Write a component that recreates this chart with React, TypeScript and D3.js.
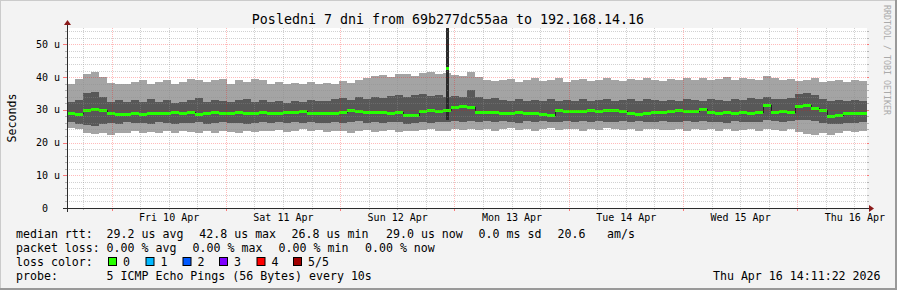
import React from 'react';
import * as d3 from 'd3';

const W = 897;
const H = 290;
const START = Date.UTC(2026, 3, 9, 14, 33);
const END = Date.UTC(2026, 3, 16, 14, 33);

// smoke: 5 sorted pings per period (microseconds)
const pingMax = [
  38.0, 39.3, 41.0, 41.5, 40.0, 38.3, 38.0, 37.8, 38.5, 39.0, 38.0, 38.5, 39.0, 38.0, 38.5, 39.5, 39.0, 38.5, 39.0, 39.5, 38.0, 39.0, 38.5, 39.5, 39.0,
  38.0, 38.5, 37.8, 38.2, 38.0, 38.6, 37.9, 38.3, 38.0, 38.8, 38.2, 39.0, 39.8, 40.2, 40.6, 40.0, 40.8, 41.0, 40.4, 41.2, 41.6, 40.8, 41.4, 40.6, 40.2,
  41.5, 40.0, 39.2, 38.8, 39.0, 39.4, 38.6, 39.2, 39.8, 38.8, 39.0, 39.6, 38.6, 39.2, 39.5, 38.8, 39.0, 39.8, 39.2, 38.8, 39.4, 39.0, 39.6, 39.2, 38.8,
  39.5, 39.0, 39.8, 39.2, 39.6, 39.0, 39.4, 40.0, 39.2, 39.6, 39.4, 39.0, 40.2, 39.6, 39.0, 39.4, 38.8, 39.2, 39.6, 38.6, 38.8, 39.2, 38.6, 39.0, 38.8,
];
const pingHigh = [
  32.4, 33.0, 35.0, 35.5, 34.0, 32.5, 33.0, 32.4, 33.0, 32.4, 33.2, 32.4, 33.0, 32.0, 32.4, 33.0, 33.6, 32.4, 33.0, 32.8, 32.4, 33.0, 33.2, 32.4, 33.0,
  32.4, 32.8, 32.2, 32.6, 32.4, 33.0, 32.6, 32.8, 33.4, 33.6, 33.0, 33.8, 33.4, 34.0, 33.6, 34.2, 34.6, 33.8, 34.4, 34.8, 34.2, 34.6, 34.0, 34.2, 33.8,
  36.0, 34.0, 33.4, 33.6, 33.0, 32.8, 33.2, 32.6, 33.0, 32.8, 33.2, 32.6, 33.0, 32.8, 33.4, 32.6, 33.0, 33.2, 32.8, 33.0, 33.4, 32.8, 33.2, 33.0, 32.6,
  33.0, 32.8, 33.2, 33.0, 32.6, 33.2, 33.0, 32.8, 33.4, 33.0, 33.6, 33.2, 34.0, 33.4, 33.2, 33.6, 34.8, 35.2, 34.6, 33.4, 32.8, 33.0, 32.6, 33.0, 32.8,
];
const pingMedian = [
  28.9, 28.7, 29.9, 30.1, 29.9, 29.1, 28.7, 28.7, 28.9, 28.6, 28.9, 29.1, 28.9, 29.4, 28.9, 29.4, 28.7, 29.1, 29.3, 28.9, 29.1, 29.2, 28.9, 28.9, 29.2,
  28.9, 28.9, 29.2, 29.2, 29.6, 29.0, 29.1, 28.9, 29.0, 29.2, 29.8, 29.6, 29.4, 29.3, 29.4, 29.1, 29.3, 28.4, 28.5, 29.6, 29.9, 29.6, 30.0, 31.0, 31.2,
  31.0, 29.4, 29.2, 29.3, 29.1, 29.0, 29.2, 28.9, 29.0, 28.8, 28.4, 30.0, 29.6, 29.7, 29.5, 29.8, 29.6, 29.9, 30.0, 29.7, 28.9, 28.8, 29.0, 29.4, 29.3,
  29.6, 29.8, 29.5, 29.7, 30.4, 29.2, 29.1, 29.3, 29.0, 29.2, 29.1, 29.3, 31.6, 29.4, 29.5, 29.2, 31.2, 31.4, 30.6, 29.8, 28.2, 28.3, 28.9, 29.0, 28.9,
];
const pingLow = [
  26.4, 25.8, 25.4, 25.2, 25.6, 26.0, 25.8, 26.2, 25.9, 26.1, 25.8, 26.2, 26.0, 25.7, 26.1, 25.9, 26.2, 25.8, 26.0, 26.3, 25.9, 26.1, 25.7, 26.0, 26.2,
  26.0, 26.3, 25.9, 26.2, 26.0, 26.4, 26.1, 25.9, 26.3, 26.0, 26.2, 26.5, 26.1, 26.3, 26.0, 26.4, 26.2, 25.8, 26.1, 26.3, 26.0, 26.4, 26.2, 26.6, 26.4,
  26.6, 26.3, 26.5, 26.2, 26.6, 26.4, 26.1, 26.5, 26.3, 26.6, 26.2, 26.4, 26.7, 26.3, 26.5, 26.2, 26.6, 26.4, 26.3, 26.5, 26.2, 26.6, 26.4, 26.3, 26.5,
  26.4, 26.2, 26.5, 26.3, 26.6, 26.2, 26.4, 26.1, 26.5, 26.3, 26.2, 26.4, 26.8, 26.5, 26.3, 26.6, 27.0, 26.8, 26.5, 26.0, 25.6, 25.8, 26.1, 25.9, 26.2,
];
const pingMin = [
  24.4, 24.2, 23.0, 22.6, 22.8, 22.4, 22.8, 23.0, 23.4, 23.0, 23.2, 22.8, 23.4, 23.0, 23.6, 23.2, 22.8, 23.4, 23.0, 23.6, 23.2, 22.8, 23.4, 23.2, 23.6,
  23.4, 23.8, 23.2, 23.6, 24.0, 23.4, 23.8, 23.2, 23.6, 23.4, 23.0, 23.6, 23.8, 23.2, 23.4, 23.8, 23.2, 23.6, 23.4, 23.8, 24.0, 23.4, 23.6, 24.2, 23.8,
  24.2, 23.8, 24.2, 23.6, 24.0, 24.4, 23.8, 24.2, 23.6, 24.0, 24.4, 23.8, 24.2, 24.0, 23.6, 24.2, 23.8, 24.4, 24.0, 23.8, 24.2, 23.6, 24.0, 24.2, 23.8,
  23.8, 24.2, 23.6, 24.0, 23.8, 24.2, 23.6, 24.0, 23.4, 23.8, 24.0, 23.6, 24.2, 23.8, 23.6, 24.0, 23.2, 22.6, 22.4, 22.8, 22.4, 23.0, 23.4, 23.2, 23.6,
];

// single outlier period (min, low, median, high, max)
const spikeTimes = [Date.UTC(2026, 3, 12, 22, 14), Date.UTC(2026, 3, 12, 22, 40)];
const spikeValues = [26.8, 27.0, 42.8, 80, 95];

const yTicks = [0, 10, 20, 30, 40, 50];
const yTickLabels = ['0  ', '10 u', '20 u', '30 u', '40 u', '50 u'];
const dayLabels = ['Fri 10 Apr', 'Sat 11 Apr', 'Sun 12 Apr', 'Mon 13 Apr', 'Tue 14 Apr', 'Wed 15 Apr', 'Thu 16 Apr'];

const title = 'Posledni 7 dni from 69b277dc55aa to 192.168.14.16';
const rttLegend = ['median rtt:', '29.2 us avg', '42.8 us max', '26.8 us min', '29.0 us now', '0.0 ms sd', '20.6', 'am/s'];
const lossLegend = ['packet loss:', '0.00 % avg', '0.00 % max', '0.00 % min', '0.00 % now'];
const lossColorTitle = 'loss color:';
const lossLabels = ['0', '1', '2', '3', '4', '5/5'];
const lossColors = ['#26ff00', '#00b8ff', '#0059ff', '#7e00ff', '#ff0000', '#a00000'];
const probeLegend = ['probe:', '5 ICMP Echo Pings (56 Bytes) every 10s'];
const stamp = 'Thu Apr 16 14:11:22 2026';
const watermark = 'RRDTOOL / TOBI OETIKER';

// layout
const rttX = [16, 106.6, 199.3, 291.6, 386, 478.6, 557.6, 607];
const lossX = [16, 106.6, 192.6, 278.6, 365];
const boxX = [108, 145.5, 182.5, 219, 256.5, 293];
const MONO = '"DejaVu Sans Mono", monospace';
const MAJOR_GRID = 'rgba(255,0,0,0.27)';
const MINOR_GRID = 'rgba(140,140,140,0.4)';

export default function App() {
  const x = d3.scaleUtc().domain([START, END]).range([67, 867]);
  const y = d3.scaleLinear().domain([0, 55]).range([208, 28]);
  const n = pingMedian.length;
  const step = (END - START) / n;

  const cols = pingMedian.map((m, i) => {
    const x0 = Math.round(x(START + i * step));
    const x1 = Math.round(x(START + (i + 1) * step));
    return { x0, w: x1 - x0, i };
  });

  const medianLine = d3
    .line<[number, number]>()
    .x((d) => x(d[0]))
    .y((d) => Math.round(y(d[1])) + 0.5)
    .curve(d3.curveStepAfter)(
      pingMedian.map((m, i) => [START + i * step, m] as [number, number]).concat([[END, pingMedian[n - 1]]])
    );

  const hGrid = d3.range(2, 55, 2);
  const vGrid = d3.utcHour.every(6)!.range(new Date(START), new Date(END));
  const px = (v: number) => Math.round(v) + 0.5;

  const sx0 = Math.round(x(spikeTimes[0]));
  const sx1 = Math.round(x(spikeTimes[1]));

  const legendBase = [237.5, 251.5, 265.5, 279.5];

  return (
    <div style={{ position: 'absolute', left: 0, top: 0 }}>
      <svg width={W} height={H} style={{ display: 'block' }} fontFamily={MONO}>
        <defs>
          <clipPath id="plot">
            <rect x={67} y={28} width={800} height={180} />
          </clipPath>
        </defs>
        <rect x={0} y={0} width={W} height={H} fill="#f3f3f3" />
        <line x1={0} y1={0.5} x2={W} y2={0.5} stroke="#cbcbcb" />
        <line x1={0.5} y1={0} x2={0.5} y2={H} stroke="#cbcbcb" />
        <line x1={0} y1={H - 1} x2={W} y2={H - 1} stroke="#999" strokeWidth={2} />
        <line x1={W - 1} y1={0} x2={W - 1} y2={H} stroke="#999" strokeWidth={2} />
        <rect x={67} y={28} width={800} height={180} fill="#fff" />

        <g clipPath="url(#plot)" shapeRendering="crispEdges">
          {cols.map((c) => (
            <rect key={'l' + c.i} x={c.x0} width={c.w} y={Math.round(y(pingMax[c.i]))}
              height={Math.round(y(pingMin[c.i])) - Math.round(y(pingMax[c.i]))} fill="#a4a4a4" />
          ))}
          {cols.map((c) => (
            <rect key={'d' + c.i} x={c.x0} width={c.w} y={Math.round(y(pingHigh[c.i]))}
              height={Math.round(y(pingLow[c.i])) - Math.round(y(pingHigh[c.i]))} fill="#585858" />
          ))}
          <rect x={sx0} width={sx1 - sx0} y={y(spikeValues[4])} height={y(spikeValues[0]) - y(spikeValues[4])} fill="#2a2a2a" />
          <path d={medianLine || ''} fill="none" stroke="#202020" strokeWidth={1} />
          {cols.map((c) => (
            <rect key={'m' + c.i} x={c.x0} width={c.w} y={Math.round(y(pingMedian[c.i])) - 1} height={3} fill={lossColors[0]} />
          ))}
          <rect x={sx0} width={sx1 - sx0} y={Math.round(y(spikeValues[2])) - 1} height={3} fill={lossColors[0]} />
        </g>

        {hGrid.map((v) => {
          const major = v % 10 === 0;
          const yy = px(y(v));
          return (
            <g key={'h' + v}>
              <line x1={67} x2={867} y1={yy} y2={yy} stroke={major ? MAJOR_GRID : MINOR_GRID} strokeDasharray="1,1" />
              <line x1={major ? 63 : 65} x2={67} y1={yy} y2={yy} stroke={major ? 'rgba(255,0,0,0.5)' : 'rgba(140,140,140,0.6)'} />
              <line x1={867} x2={869} y1={yy} y2={yy} stroke={major ? 'rgba(255,0,0,0.5)' : 'rgba(140,140,140,0.6)'} />
            </g>
          );
        })}
        {vGrid.map((d) => {
          const major = d.getUTCHours() === 0;
          const xx = px(x(d) - 0.5);
          return (
            <g key={'v' + +d}>
              <line x1={xx} x2={xx} y1={28} y2={208} stroke={major ? MAJOR_GRID : MINOR_GRID} strokeDasharray="1,1" />
              <line x1={xx} x2={xx} y1={208} y2={major ? 211 : 210} stroke={major ? 'rgba(255,0,0,0.5)' : 'rgba(140,140,140,0.6)'} />
            </g>
          );
        })}

        {/* axes */}
        <line x1={67.5} x2={67.5} y1={212} y2={24} stroke="#2c2c2c" />
        <line x1={63} x2={871} y1={208.5} y2={208.5} stroke="#2c2c2c" />
        <path d="M64,25 L71,25 L67.5,20 Z" fill="#8b1a1a" />
        <path d="M869,205 L869,212 L874,208.5 Z" fill="#8b1a1a" />

        {yTicks.map((v, i) => (
          <text key={'yt' + v} x={60} y={y(v) + 3.6} fontSize={10} textAnchor="end" style={{ whiteSpace: 'pre' }} fill="#000">
            {yTickLabels[i]}
          </text>
        ))}
        {dayLabels.map((lab, i) => (
          <text key={lab} x={x(Date.UTC(2026, 3, 10 + i, 12))} y={221} fontSize={10} textAnchor="middle" fill="#000">
            {lab}
          </text>
        ))}

        <text x={448} y={23.5} fontSize={13.3} textAnchor="middle" fill="#000">{title}</text>
        <text transform="translate(15.5,118) rotate(-90)" fontSize={11.6} textAnchor="middle" fill="#000">Seconds</text>
        <text transform="translate(884,5) rotate(90)" fontSize={8.3} textAnchor="start" fill="#aaa">{watermark}</text>

        <g fontSize={11.6} fill="#000" style={{ whiteSpace: 'pre' }}>
          {rttLegend.map((t, i) => (
            <text key={'r' + i} x={rttX[i]} y={legendBase[0]}>{t}</text>
          ))}
          {lossLegend.map((t, i) => (
            <text key={'p' + i} x={lossX[i]} y={legendBase[1]}>{t}</text>
          ))}
          <text x={16} y={legendBase[2]}>{lossColorTitle}</text>
          {lossLabels.map((t, i) => (
            <g key={'lc' + i}>
              <rect x={boxX[i] + 0.5} y={257.5} width={8} height={8} fill={lossColors[i]} stroke="#000" />
              <text x={boxX[i] + 15} y={legendBase[2]}>{t}</text>
            </g>
          ))}
          <text x={16} y={legendBase[3]}>{probeLegend[0]}</text>
          <text x={106.6} y={legendBase[3]}>{probeLegend[1]}</text>
          <text x={880.5} y={legendBase[3]} textAnchor="end">{stamp}</text>
        </g>
      </svg>
    </div>
  );
}
